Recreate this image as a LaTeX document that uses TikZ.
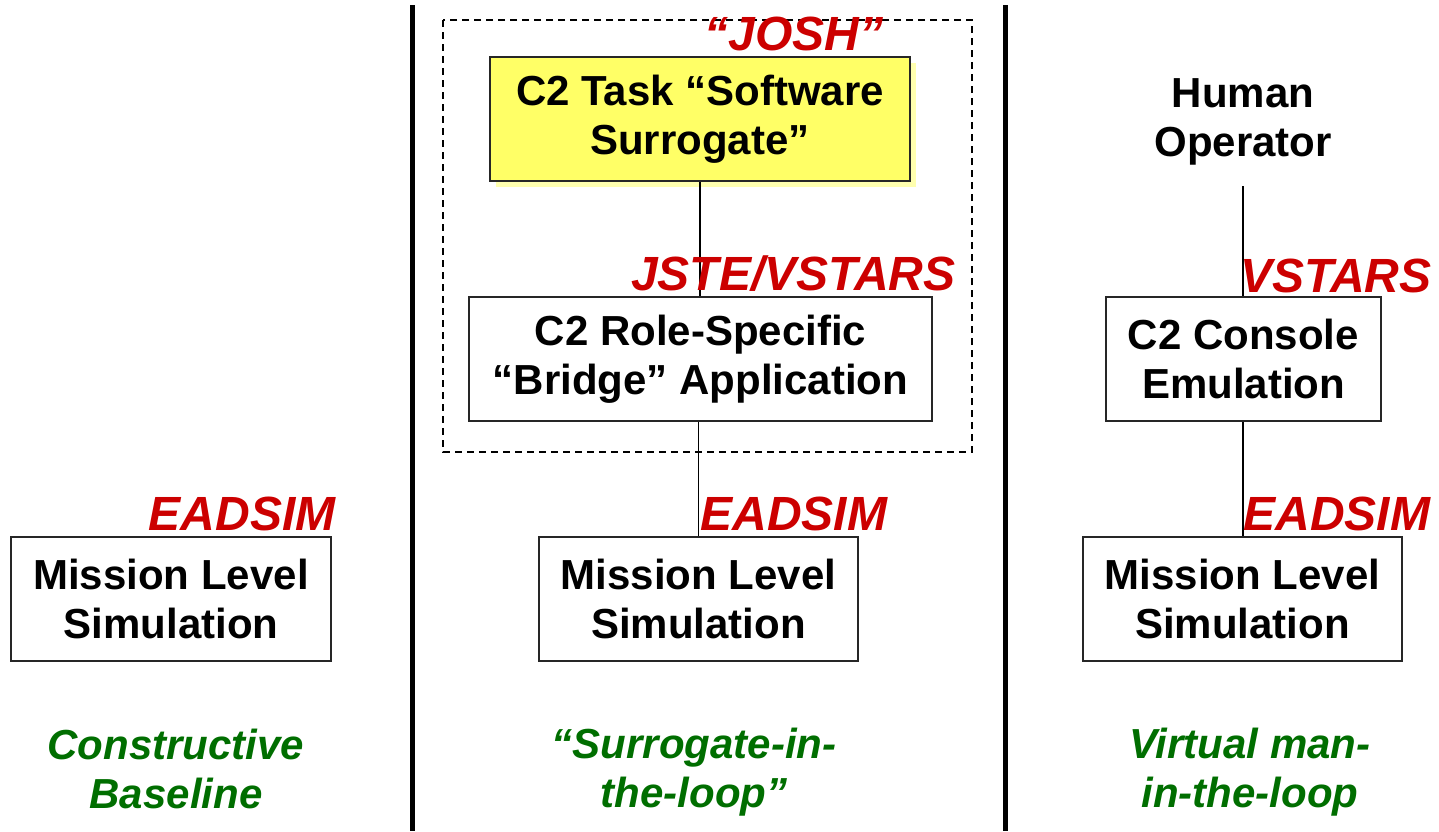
\documentclass[tikz,border=0pt]{standalone}
\usepackage{fontspec}
\setmainfont{Liberation Sans}
\usepackage{xcolor}
\definecolor{eadred}{RGB}{204,0,0}
\definecolor{loopgreen}{RGB}{0,110,0}
\definecolor{taskyellow}{RGB}{255,255,102}
\definecolor{taskshadow}{RGB}{255,255,175}
\newcommand\boxfont{\fontsize{21}{24.5}\selectfont\bfseries}
\newcommand\toolfont{\fontsize{24}{27}\selectfont\bfseries\itshape}
\newcommand\modefont{\fontsize{21}{24.5}\selectfont\bfseries\itshape}

\begin{document}
\begin{tikzpicture}[x=0.5pt,y=0.5pt,yscale=-1,xscale=1,
  simbox/.style={draw=black!85,line width=1pt,fill=white,align=center,font=\boxfont,inner sep=0pt,minimum height=62pt},
  toolname/.style={text=eadred,font=\toolfont,inner sep=0pt},
  modelabel/.style={text=loopgreen,font=\modefont,align=center,inner sep=0pt},
  link/.style={line width=0.75pt}]
\useasboundingbox (0,0) rectangle (1439,831);

%Straight Lines: column separators
\draw [line width=2.5pt] (412,5) -- (412,831) ;
\draw [line width=2.5pt] (1005,5) -- (1005,831) ;
%Shape: Rectangle (dashed group)
\draw [line width=0.75pt, dash pattern=on 3.5pt off 2.5pt] (443,20) rectangle (972,452) ;

%Shape: Rectangle (shadow of task box)
\fill [taskshadow] (496,63) rectangle (916,187) ;

% Boxes
\node [simbox, minimum width=210pt, fill=taskyellow] (task) at (700,119) {C2 Task “Software\\Surrogate”};
\node [simbox, minimum width=231.5pt] (bridge) at (700.5,359) {C2 Role-Specific\\“Bridge” Application};
\node [simbox, minimum width=159.5pt] (msnM) at (698.5,599) {Mission Level\\Simulation};
\node [simbox, minimum width=160pt] (msnL) at (171,599) {Mission Level\\Simulation};
\node [simbox, minimum width=137.5pt] (console) at (1243.5,359) {C2 Console\\Emulation};
\node [simbox, minimum width=159.5pt] (msnR) at (1242.5,599) {Mission Level\\Simulation};
\node [simbox, draw=none, fill=none, minimum height=63pt] (human) at (1243,122) {Human\\Operator};

% Links
\draw [link] (task.south) -- (task.south |- bridge.north) ;
\draw [link] (msnM.north) -- (msnM.north |- bridge.south) ;
\draw [link] (human.south) -- (human.south |- console.north) ;
\draw [link] (human.south |- console.south) -- (human.south |- msnR.north) ;

% Text Node
\node [toolname, anchor=base west] (josh) at (704,50) {“JOSH”};
\node [toolname, anchor=base east] (jste) at (956,290) {JSTE/VSTARS};
\node [toolname, anchor=base west] (eadM) at (700,530) {EADSIM};
\node [toolname, anchor=base east] (eadL) at (336,530) {EADSIM};
\node [toolname, anchor=base west] (vstars) at (1240,292) {VSTARS};
\node [toolname, anchor=base west] (eadR) at (1243,530) {EADSIM};

% Text Node
\node [modelabel] (cnstr) at (176,769) {Constructive\\Baseline};
\node [modelabel] (srgt) at (694,772) {“Surrogate-in-\\the-loop”};
\node [modelabel] (vrtl) at (1250,772) {Virtual man-\\in-the-loop};

\end{tikzpicture}
\end{document}
